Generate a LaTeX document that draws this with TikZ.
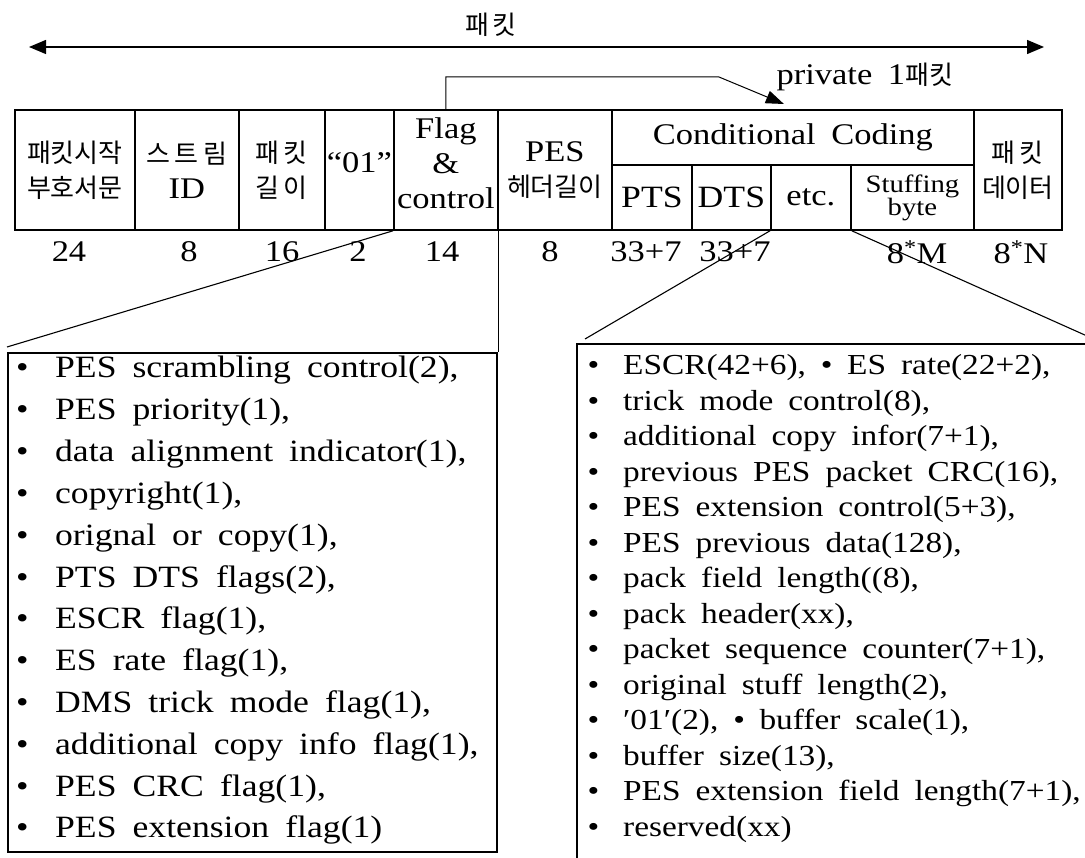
\documentclass[tikz,border=0pt]{standalone}
\usepackage{fontspec}
\setmainfont{Liberation Serif}[FakeStretch=1.15, WordSpace=1.8]
\newfontfamily\kr{Noto Sans CJK KR}
\usetikzlibrary{arrows.meta}

\newcommand\txt{\fontsize{30pt}{35pt}\selectfont}
\newcommand\lstf{\fontsize{31pt}{35pt}\selectfont}
\newcommand\krt{\kr\fontsize{26pt}{35pt}\selectfont}
\newcommand\ptf{\fontsize{31pt}{35pt}\selectfont}
\newcommand\smf{\fontsize{25pt}{23pt}\selectfont}
\newcommand\rtf{\fontsize{29pt}{34pt}\selectfont}
\newcommand\lift{\rule[-14pt]{0pt}{14pt}}

\begin{document}
\begin{tikzpicture}[x=1pt,y=-1pt,
  field/.style={draw, line width=1.8pt, inner sep=0pt, align=center,
    minimum height=120pt, anchor=north west, font=\txt},
  num/.style={inner sep=0pt, font=\txt},
  listbox/.style={draw, line width=1.6pt, inner sep=0pt, anchor=north west},
  item/.style={inner sep=0pt, anchor=base west},
  conn/.style={line width=1.1pt}]

\clip (0,0) rectangle (1085,858);

% overall packet span
\coordinate (aL) at (29,47);
\coordinate (aR) at (1044,47);
\draw[line width=1.3pt, {Triangle[length=17pt,width=14pt]}-{Triangle[length=17pt,width=14pt]}] (aL) -- (aR);
\node[font=\krt] (pk) at (491,25) {패\hspace{3pt}킷};

% header fields
\node[field, minimum width=120pt, font=\krt] (f1) at (14,109) {패킷시작\\부호서문};
\node[field, minimum width=104pt, font=\krt] (f2) at (134,109) {스\hspace{5pt}트\hspace{5pt}림\\{\rmfamily\txt ID}};
\node[field, minimum width=86pt, font=\krt] (f3) at (238,109) {패\hspace{4pt}킷\\길\hspace{4pt}이};
\node[field, minimum width=69pt] (f4) at (324,109) {“01”\lift};
\node[field, minimum width=104pt] (f5) at (393,109) {Flag\\\&\\control\lift};
\node[field, minimum width=114pt] (f6) at (497,109) {PES\\{\krt 헤더길이}};
\node[field, minimum width=362pt, minimum height=55pt] (cc) at (611,109) {Conditional Coding};
\node[field, minimum width=80pt, minimum height=65pt, font=\ptf] (pts) at (611,164) {PTS};
\node[field, minimum width=79pt, minimum height=65pt, font=\ptf] (dts) at (691,164) {DTS};
\node[field, minimum width=80pt, minimum height=65pt] (etc) at (770,164) {etc.};
\node[field, minimum width=123pt, minimum height=65pt, font=\smf] (stf) at (850,164) {Stuffing\\byte};
\node[field, minimum width=88pt, font=\krt] (f7) at (973,109) {패\hspace{4pt}킷\\데이터};

% bit counts
\node[num] (n1) at (69,252) {24};
\node[num] (n2) at (189,252) {8};
\node[num] (n3) at (282,252) {16};
\node[num] (n4) at (358,252) {2};
\node[num] (n5) at (442,252) {14};
\node[num] (n6) at (550,252) {8};
\node[num] (n7) at (646,252) {33+7};
\node[num] (n8) at (735,252) {33+7};
\node[num] (n9) at (917,252) {8\textsuperscript{*}M};
\node[num] (n10) at (1021,252) {8\textsuperscript{*}N};

% private stream pointer
\node[anchor=west, font=\txt] (p1) at (773,77) {private 1{\krt 패킷}};
\coordinate (bk) at (719,77);
\draw[line width=1pt, -{Triangle[length=18pt,width=13pt]}] (f5.north) |- (bk) -- ([xshift=-9pt,yshift=5pt]cc.north);

% detail boxes
\node[listbox, minimum width=489pt, minimum height=499pt] (LB) at (7,352) {};
\node[listbox, minimum width=600pt, minimum height=600pt] (RB) at (576,343) {};

\draw[conn] (f5.south west) -- ([yshift=5pt]LB.north west);
\draw[conn] (f5.south east) -- (f5.south east |- LB.north);
\draw[conn] (etc.south west) -- ([xshift=9pt,yshift=4pt]RB.north west);
\coordinate (rx) at (1100,341.8);
\draw[conn] (etc.south east) -- (rx);

% flag field contents
\foreach \t [count=\i from 0] in {
  {PES scrambling control(2),},
  {PES priority(1),},
  {data alignment indicator(1),},
  {copyright(1),},
  {orignal or copy(1),},
  {PTS DTS flags(2),},
  {ESCR flag(1),},
  {ES rate flag(1),},
  {DMS trick mode flag(1),},
  {additional copy info flag(1),},
  {PES CRC flag(1),},
  {PES extension flag(1)}}
  \node[item, font=\lstf] (L\i) at (16,{378+41.8*\i}) {\makebox[39pt][l]{•}\t};

% optional field contents
\foreach \t [count=\i from 0] in {
  {ESCR(42+6), •\enspace ES rate(22+2),},
  {trick mode control(8),},
  {additional copy infor(7+1),},
  {previous PES packet CRC(16),},
  {PES extension control(5+3),},
  {PES previous data(128),},
  {pack field length((8),},
  {pack header(xx),},
  {packet sequence counter(7+1),},
  {original stuff length(2),},
  {′01′(2), •\enspace buffer scale(1),},
  {buffer size(13),},
  {PES extension field length(7+1),},
  {reserved(xx)}}
  \node[item, font=\rtf] (R\i) at (587.5,{374.5+35.54*\i}) {\makebox[35.5pt][l]{•}\t};

\end{tikzpicture}
\end{document}
